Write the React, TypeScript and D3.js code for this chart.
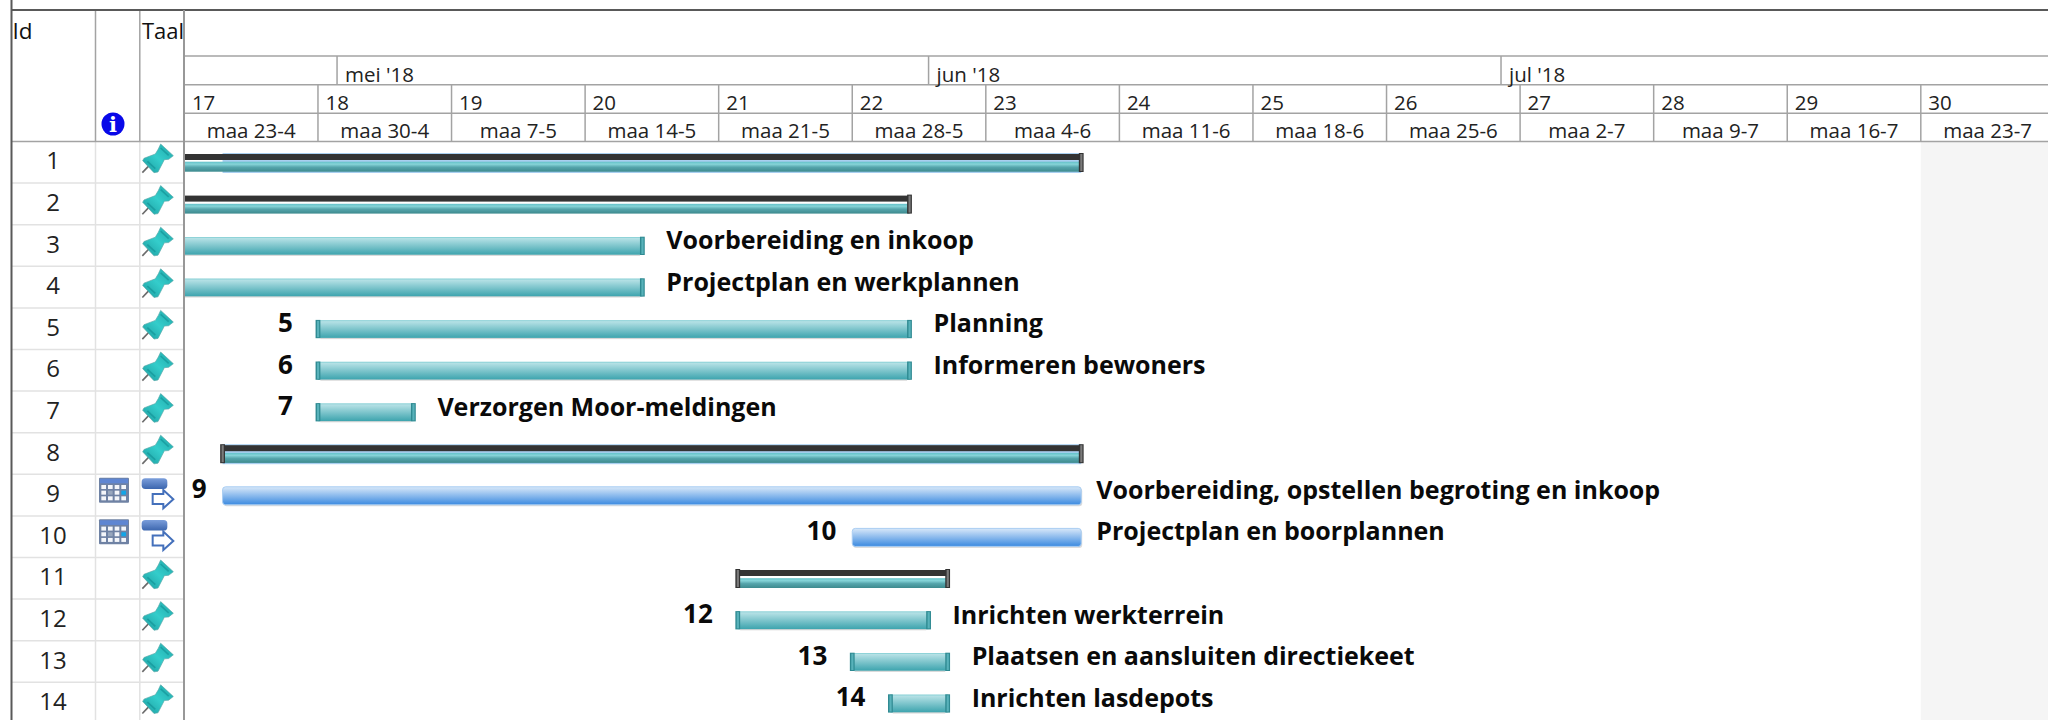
import React from "react";
import * as d3 from "d3";

const utc = (m: number, d: number) => new Date(Date.UTC(2018, m - 1, d));

const taskIds = [1, 2, 3, 4, 5, 6, 7, 8, 9, 10, 11, 12, 13, 14];
const taskKinds = ["summary", "summary", "task", "task", "task", "task", "task", "summary", "auto", "auto", "summary", "task", "task", "task"];
const taskStarts = [utc(4, 9), utc(4, 9), utc(4, 9), utc(4, 9), utc(4, 30), utc(4, 30), utc(4, 30), utc(4, 25), utc(4, 25), utc(5, 28), utc(5, 22), utc(5, 22), utc(5, 28), utc(5, 30)];
const taskEnds = [utc(6, 9), utc(5, 31), utc(5, 17), utc(5, 17), utc(5, 31), utc(5, 31), utc(5, 5), utc(6, 9), utc(6, 9), utc(6, 9), utc(6, 2), utc(6, 1), utc(6, 2), utc(6, 2)];
const taskNames = ["", "", "Voorbereiding en inkoop", "Projectplan en werkplannen", "Planning", "Informeren bewoners", "Verzorgen Moor-meldingen", "", "Voorbereiding, opstellen begroting en inkoop", "Projectplan en boorplannen", "", "Inrichten werkterrein", "Plaatsen en aansluiten directiekeet", "Inrichten lasdepots"];
const showLeftId = [false, false, false, false, true, true, true, false, true, true, false, true, true, true];
const blueUnderlayStarts = [utc(4, 25), null, null, null, null, null, null, utc(4, 25), null, null, null, null, null, null];

const weekNumbers = [17, 18, 19, 20, 21, 22, 23, 24, 25, 26, 27, 28, 29, 30];
const weekLabels = ["maa 23-4", "maa 30-4", "maa 7-5", "maa 14-5", "maa 21-5", "maa 28-5", "maa 4-6", "maa 11-6", "maa 18-6", "maa 25-6", "maa 2-7", "maa 9-7", "maa 16-7", "maa 23-7"];
const monthLabels = ["mei '18", "jun '18", "jul '18"];
const columnHeaders = ["Id", "Taal"];

const FONT = "'Open Sans', sans-serif";
const W = 2048, H = 720;
const rowTop0 = 141.5, rowH = 41.6;
const chartX0 = 184.4;
const weekW = 133.57;
const x = d3.scaleUtc().domain([utc(4, 23), utc(8, 6)]).range([chartX0, chartX0 + 15 * weekW]);
const y = d3.scaleLinear().domain([0, 14]).range([rowTop0, rowTop0 + 14 * rowH]);
const weekTicks = d3.utcMonday.range(utc(4, 23), utc(7, 30));
const monthTicks = d3.utcMonth.range(utc(5, 1), utc(8, 1));
const nonWorkStart = utc(7, 23);
const LINE = "#a3a3a3";
const DARK = "#595959";

function Pin({ top }: { top: number }) {
  return (
    <g transform={`translate(130,${top - 1.5}) scale(0.3333)`}>
      <line x1={37} y1={98} x2={58} y2={76} stroke="#6b6b6b" strokeWidth={5} />
      <path d="M92 12 L130 47 L116 58 L103 59 L84 96 L72 98 L38 62 L42 55 L76 42 L85 27 Z" fill="url(#pinG)" stroke="#58a8a8" strokeWidth={2} />
      <path d="M92 24 L116 46 M52 64 L76 86" stroke="#0f8c90" strokeWidth={5} opacity={0.55} />
    </g>
  );
}

function AutoIcon({ top }: { top: number }) {
  return (
    <g transform={`translate(90,${top - 4.3}) scale(0.3333)`}>
      <rect x={155} y={25} width={77} height={32} rx={11} fill="url(#autoG)" />
      <polygon points="188,72 220,72 220,60 250,88 220,115 220,102 188,102" fill="#fff" stroke="#4470bb" strokeWidth={6} />
    </g>
  );
}

function CalIcon({ top }: { top: number }) {
  const cols = [0, 1, 2, 3], rows = [0, 1, 2];
  return (
    <g transform={`translate(90,${top - 4.3}) scale(0.3333)`}>
      <rect x={27} y={23} width={90} height={75} rx={3} fill="#6f82a4" />
      <rect x={30} y={26} width={84} height={14} fill="#5f86d2" />
      {rows.map(r => cols.map(c => (
        <rect key={`${r}-${c}`} x={34 + c * 20} y={45 + r * 17} width={14} height={12}
          fill={r === 1 && c === 3 ? "#12a5e8" : r === 1 && c === 1 ? "#98a7bd" : "#f4f6fa"} />
      )))}
    </g>
  );
}

function Cap({ cx, top, h, fill, inner }: { cx: number; top: number; h: number; fill: string; inner: string }) {
  return (
    <g>
      <rect x={cx - 2.4} y={top} width={4.8} height={h} fill={fill} />
      <rect x={cx - 1} y={top + 1} width={2.2} height={h - 2} fill={inner} />
    </g>
  );
}

function Bar({ i }: { i: number }) {
  const top = y(i);
  const kind = taskKinds[i];
  const x0 = x(taskStarts[i]);
  const x1 = x(taskEnds[i]);
  const under = blueUnderlayStarts[i];
  if (kind === "summary") {
    return (
      <g>
        {under && <rect x={x(under)} y={top + 11.5} width={x1 - x(under)} height={20} fill="#a9cff0" />}
        <rect x={x0} y={top + 12.5} width={x1 - x0} height={6} fill="#333333" />
        <rect x={x0} y={top + (under ? 20.2 : 20.7)} width={x1 - x0} height={under ? 10 : 9.8} fill="url(#sumG)" />
        <Cap cx={x0} top={top + 11.5} h={19} fill="#333" inner="#7a7a7a" />
        <Cap cx={x1} top={top + 11.5} h={19} fill="#333" inner="#7a7a7a" />
      </g>
    );
  }
  if (kind === "auto") {
    return (
      <g>
        <rect x={x0 + 1} y={top + 14} width={x1 - x0} height={18} rx={3} fill="#dcdcdc" />
        <rect x={x0} y={top + 12.5} width={x1 - x0} height={18} rx={3} fill="url(#autoBarG)" stroke="#a9cdf2" strokeWidth={1} />
      </g>
    );
  }
  return (
    <g>
      <rect x={x0 + 2.4} y={top + 29.5} width={x1 - x0 - 4.8} height={1.7} fill="#d6d6d6" />
      <rect x={x0} y={top + 12.3} width={x1 - x0} height={17.7} fill="url(#taskG)" />
      <rect x={x0} y={top + 12.3} width={x1 - x0} height={1} fill="#8fd3d8" />
      <Cap cx={x0} top={top + 12} h={18.3} fill="#2f8a92" inner="#58b2ba" />
      <Cap cx={x1} top={top + 12} h={18.3} fill="#2f8a92" inner="#58b2ba" />
    </g>
  );
}

export default function App() {
  const rowIdx = d3.range(taskIds.length);
  return (
    <svg width={W} height={H} viewBox={`0 0 ${W} ${H}`} style={{ position: "absolute", left: 0, top: 0, display: "block", background: "#fff" }} fontFamily={FONT}>
      <defs>
        <clipPath id="chartClip"><rect x={chartX0} y={rowTop0} width={W - chartX0} height={H - rowTop0} /></clipPath>
        <clipPath id="taalClip"><rect x={140} y={10} width={43} height={60} /></clipPath>
        <linearGradient id="taskG" x1="0" y1="0" x2="0" y2="1">
          <stop offset="0" stopColor="#bfe6ea" /><stop offset="1" stopColor="#3da4ae" />
        </linearGradient>
        <linearGradient id="sumG" x1="0" y1="0" x2="0" y2="1">
          <stop offset="0" stopColor="#62c0c8" /><stop offset="0.25" stopColor="#86d4d8" /><stop offset="0.55" stopColor="#55a5ac" /><stop offset="1" stopColor="#3d8a8e" />
        </linearGradient>
        <linearGradient id="autoBarG" x1="0" y1="0" x2="0" y2="1">
          <stop offset="0" stopColor="#d8e8f9" /><stop offset="1" stopColor="#3b8ae0" />
        </linearGradient>
        <linearGradient id="pinG" x1="1" y1="0" x2="0" y2="1">
          <stop offset="0" stopColor="#1fa6a8" /><stop offset="0.5" stopColor="#34cdcb" /><stop offset="1" stopColor="#1b9b9e" />
        </linearGradient>
        <linearGradient id="autoG" x1="0" y1="0" x2="0" y2="1">
          <stop offset="0" stopColor="#7b9edb" /><stop offset="1" stopColor="#3c66ae" />
        </linearGradient>
      </defs>

      <rect x={x(nonWorkStart)} y={rowTop0} width={W - x(nonWorkStart)} height={H - rowTop0} fill="#f5f5f5" />

      {rowIdx.map(i => (
        <line key={i} x1={12} x2={chartX0} y1={y(i + 1)} y2={y(i + 1)} stroke="#e2e2e2" strokeWidth={1.5} />
      ))}
      <line x1={95.5} x2={95.5} y1={rowTop0} y2={H} stroke="#e2e2e2" strokeWidth={1.5} />
      <line x1={139.8} x2={139.8} y1={rowTop0} y2={H} stroke="#e2e2e2" strokeWidth={1.5} />

      <line x1={chartX0} x2={W} y1={56} y2={56} stroke={LINE} strokeWidth={1.5} />
      <line x1={chartX0} x2={W} y1={84.7} y2={84.7} stroke={LINE} strokeWidth={1.5} />
      <line x1={chartX0} x2={W} y1={113.2} y2={113.2} stroke={LINE} strokeWidth={1.5} />
      <line x1={12} x2={W} y1={141.5} y2={141.5} stroke={LINE} strokeWidth={1.5} />
      <line x1={95.5} x2={95.5} y1={10} y2={141.5} stroke={LINE} strokeWidth={1.5} />
      <line x1={139.8} x2={139.8} y1={10} y2={141.5} stroke={LINE} strokeWidth={1.5} />
      {monthTicks.map(d => <line key={+d} x1={x(d)} x2={x(d)} y1={56} y2={84.7} stroke={LINE} strokeWidth={1.5} />)}
      {weekTicks.slice(1).map(d => <line key={+d} x1={x(d)} x2={x(d)} y1={84.7} y2={141.5} stroke={LINE} strokeWidth={1.5} />)}

      <text x={12.5} y={38.5} fontSize={22.5} fill="#111">{columnHeaders[0]}</text>
      <text x={142} y={38.5} fontSize={22} fill="#111" clipPath="url(#taalClip)">{columnHeaders[1]}</text>
      {monthTicks.map((d, i) => <text key={+d} x={x(d) + 8} y={81.5} fontSize={20.5} fill="#222">{monthLabels[i]}</text>)}
      {weekTicks.map((d, i) => <text key={+d} x={x(d) + 7.5} y={109.5} fontSize={20.5} fill="#222">{weekNumbers[i]}</text>)}
      {weekTicks.map((d, i) => <text key={+d} x={x(d) + weekW / 2} y={138} fontSize={20.5} fill="#222" textAnchor="middle">{weekLabels[i]}</text>)}

      <circle cx={113} cy={124} r={11.5} fill="#0808e8" />
      <text x={113} y={132} fontSize={21} fontWeight={700} fill="#fff" textAnchor="middle" fontFamily="'DejaVu Serif', serif">i</text>

      {rowIdx.map(i => (
        <g key={i}>
          <text x={53} y={y(i) + 27.8} fontSize={24} fill="#222" textAnchor="middle">{taskIds[i]}</text>
          {taskKinds[i] === "auto" ? (
            <g><CalIcon top={y(i)} /><AutoIcon top={y(i)} /></g>
          ) : <Pin top={y(i)} />}
        </g>
      ))}

      <g clipPath="url(#chartClip)">
        {rowIdx.map(i => <Bar key={i} i={i} />)}
      </g>

      {rowIdx.map(i => {
        const auto = taskKinds[i] === "auto";
        const gap = auto ? 16 : 25;
        return (
          <g key={i} fontWeight={700} fill="#0a0a0a">
            {showLeftId[i] && <text x={x(taskStarts[i]) - gap} y={y(i) + 24.1} textAnchor="end" fontSize={26}>{taskIds[i]}</text>}
            {taskNames[i] && <text x={x(taskEnds[i]) + gap - 1} y={y(i) + 24.4} fontSize={25}>{taskNames[i]}</text>}
          </g>
        );
      })}

      <line x1={12} x2={W} y1={10} y2={10} stroke={DARK} strokeWidth={2} />
      <line x1={11.5} x2={11.5} y1={0} y2={H} stroke={DARK} strokeWidth={2} />
      <line x1={184} x2={184} y1={10} y2={H} stroke="#989898" strokeWidth={2} />
    </svg>
  );
}
